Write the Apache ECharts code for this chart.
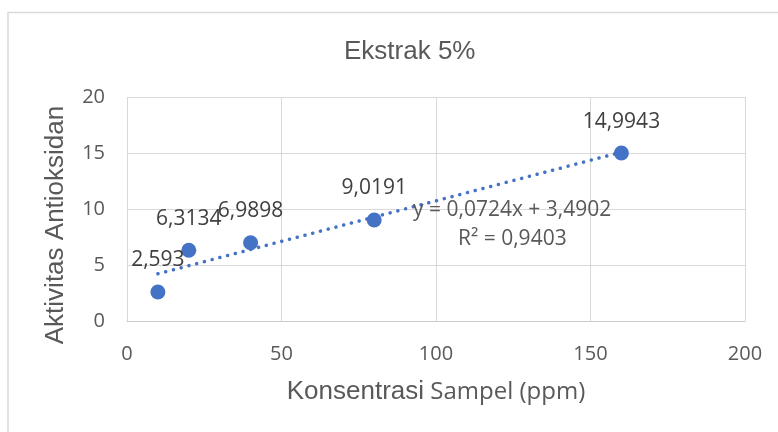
<!DOCTYPE html>
<html>
<head>
<meta charset="utf-8">
<script src="https://cdn.jsdelivr.net/npm/echarts@6/dist/echarts.min.js"></script>
<style>
html,body{margin:0;padding:0;background:#ffffff;}
#chart{width:778px;height:432px;}
</style>
</head>
<body>
<div id="chart"></div>
<script>
// Data
const concentrations = [10, 20, 40, 80, 160];
const activity = [2.593, 6.3134, 6.9898, 9.0191, 14.9943];
const pointLabels = ['2,593', '6,3134', '6,9898', '9,0191', '14,9943'];
// Trendline as shown in the picture: y = 0,0724x + 3,4902
const trendSlope = 0.0724;
const trendIntercept = 3.4902;
const trendRange = [10, 160];
const equationText = 'y = 0,0724x + 3,4902';
const r2Text = 'R² = 0,9403';
const titleText = 'Ekstrak 5%';

const scatterData = concentrations.map((x, i) => [x, activity[i]]);
const trendData = trendRange.map(x => [x, trendSlope * x + trendIntercept]);

const chart = echarts.init(document.getElementById('chart'));
const grey = '#595959';
chart.setOption({
  animation: false,
  backgroundColor: '#ffffff',
  title: {
    text: titleText,
    left: 339,
    top: 33,
    textStyle: {fontFamily: 'Liberation Sans', fontSize: 26, fontWeight: 'normal', color: grey, lineHeight: 28}
  },
  grid: {left: 127, right: 33, top: 97, bottom: 111},
  xAxis: {
    type: 'value', min: 0, max: 200, interval: 50,
    name: '{a|Konsentrasi}{b| Sampel (ppm)}',
    nameLocation: 'middle', nameGap: 56,
    nameTextStyle: {
      rich: {
        a: {fontFamily: 'Liberation Sans', fontSize: 26, color: grey, lineHeight: 30},
        b: {fontFamily: 'Open Sans', fontSize: 24, color: grey, lineHeight: 30}
      }
    },
    axisLine: {show: true, lineStyle: {color: '#cccccc', width: 1}},
    axisTick: {show: false},
    axisLabel: {margin: 23, fontFamily: 'Open Sans', fontSize: 20, color: grey, lineHeight: 20},
    splitLine: {show: true, lineStyle: {color: '#d9d9d9', width: 1}}
  },
  yAxis: {
    type: 'value', min: 0, max: 20, interval: 5,
    name: 'Aktivitas Antioksidan',
    nameLocation: 'middle', nameGap: 58,
    nameTextStyle: {fontFamily: 'Liberation Sans', fontSize: 26, color: grey, lineHeight: 26, padding: [0, 32, 0, 0]},
    axisLine: {show: false},
    axisTick: {show: false},
    axisLabel: {margin: 22, fontFamily: 'Open Sans', fontSize: 20, color: grey},
    splitLine: {show: true, lineStyle: {color: '#d9d9d9', width: 1}}
  },
  series: [
    {
      type: 'line',
      data: trendData,
      showSymbol: false,
      symbol: 'none',
      silent: true,
      lineStyle: {color: '#4472C4', width: 3.5, type: [0.1, 7.9], cap: 'round'},
      z: 2
    },
    {
      type: 'scatter',
      data: scatterData,
      symbolSize: 15,
      itemStyle: {color: '#4472C4', opacity: 1},
      label: {
        show: true, position: 'top', distance: 13,
        formatter: p => pointLabels[p.dataIndex],
        fontFamily: 'Open Sans', fontSize: 21, color: '#404040', lineHeight: 22
      },
      z: 3
    }
  ],
  graphic: [
    {
      type: 'rect', silent: true, z: -1,
      shape: {x: 8, y: 12.5, width: 800, height: 500},
      style: {fill: 'none', stroke: '#d9d9d9', lineWidth: 1.5}
    },
    {
      type: 'text', silent: true, z: 10,
      left: 413, top: 200,
      style: {text: equationText, fontFamily: 'Open Sans', fontSize: 21, fill: grey}
    },
    {
      type: 'text', silent: true, z: 10,
      left: 458, top: 229,
      style: {text: r2Text, fontFamily: 'Open Sans', fontSize: 21, fill: grey}
    }
  ]
});
</script>
</body>
</html>
